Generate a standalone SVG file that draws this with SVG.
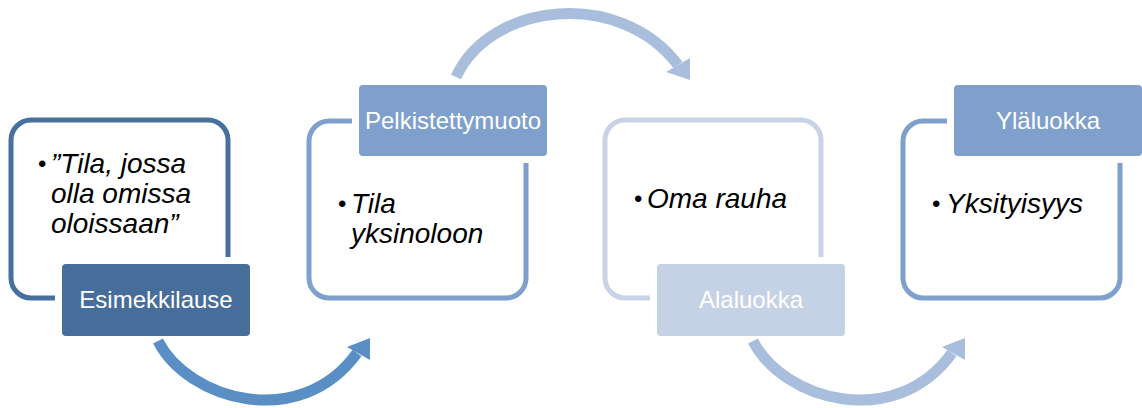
<svg xmlns="http://www.w3.org/2000/svg" width="1142" height="408" viewBox="0 0 1142 408">
<style>
.frame{fill:#ffffff;stroke-width:5}
.lab{stroke:#ffffff;stroke-width:14;paint-order:stroke}
.lt{font-family:"Liberation Sans",Arial,sans-serif;font-size:24px;fill:#ffffff;text-anchor:middle}
.bt{font-family:"Liberation Sans",Arial,sans-serif;font-size:28px;font-style:italic;fill:#000000}
.bu{font-family:"Liberation Sans",Arial,sans-serif;font-size:24px;fill:#000000}
.arc{fill:none;stroke-width:11}
</style>
<rect width="1142" height="408" fill="#ffffff"/>
<g id="node1">
<rect class="frame" x="11" y="120" width="217" height="178" rx="20" stroke="#46709D"/>
<rect class="lab" x="62" y="264" width="188" height="72" rx="4" fill="#476E9A"/>
<text class="lt" x="156" y="308">Esimekkilause</text>
<text class="bu" x="38" y="172">•</text>
<text class="bt" x="51" y="173">”Tila, jossa</text>
<text class="bt" x="51" y="203">olla omissa</text>
<text class="bt" x="51" y="233">oloissaan”</text>
</g>
<g id="node2">
<rect class="frame" x="309" y="121" width="217" height="177" rx="20" stroke="#7FA0CC"/>
<rect class="lab" x="359" y="85" width="188" height="71" rx="4" fill="#7FA0CC"/>
<text class="lt" x="453" y="129">Pelkistettymuoto</text>
<text class="bu" x="338" y="212">•</text>
<text class="bt" x="351" y="213">Tila</text>
<text class="bt" x="351" y="243">yksinoloon</text>
</g>
<g id="node3">
<rect class="frame" x="605" y="120" width="216" height="178" rx="20" stroke="#C8D4E6"/>
<rect class="lab" x="657" y="264" width="188" height="72" rx="4" fill="#C5D1E4"/>
<text class="lt" x="751" y="308">Alaluokka</text>
<text class="bu" x="634" y="207">•</text>
<text class="bt" x="647" y="208">Oma rauha</text>
</g>
<g id="node4">
<rect class="frame" x="903" y="121" width="217" height="177" rx="20" stroke="#7FA0CC"/>
<rect class="lab" x="954" y="85" width="188" height="71" rx="4" fill="#7FA0CC"/>
<text class="lt" x="1048" y="129">Yläluokka</text>
<text class="bu" x="932" y="212">•</text>
<text class="bt" x="946" y="213">Yksityisyys</text>
</g>
<g id="connectors">
<path class="arc" stroke="#5A8FC6" d="M158,341 C188,400 300,432 357,353"/>
<polygon fill="#5A8FC6" points="370,338 347,347 370,360"/>
<path class="arc" stroke="#A9BDDC" d="M456,77 C490,2 620,-12 678,65"/>
<polygon fill="#A9BDDC" points="690,80 666,72 690,58"/>
<path class="arc" stroke="#A9BDDC" d="M753,341 C783,400 895,432 952,353"/>
<polygon fill="#A9BDDC" points="965,338 942,347 965,360"/>
</g>
</svg>
